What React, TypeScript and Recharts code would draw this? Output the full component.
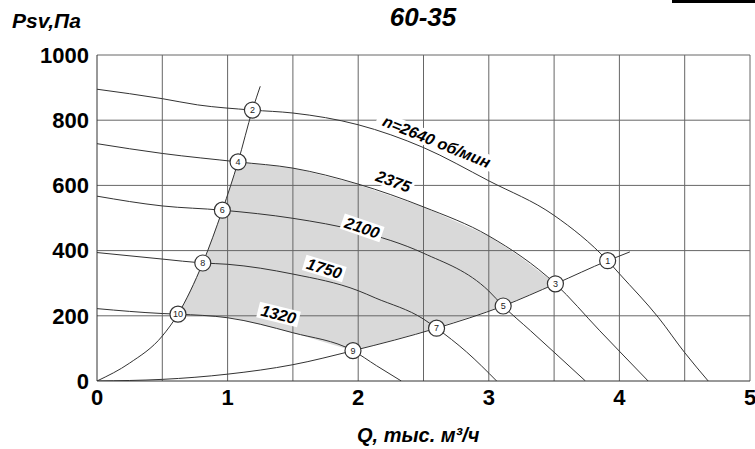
import { ComposedChart, Line, Area, Scatter, XAxis, YAxis, ReferenceLine } from 'recharts'

const FONT = '"Liberation Sans", Arial, sans-serif'

const Q_TICKS = [0, 1, 2, 3, 4, 5]
const P_TICKS = [0, 200, 400, 600, 800, 1000]
const GRID_Q = [0.5, 1, 1.5, 2, 2.5, 3, 3.5, 4, 4.5, 5]
const GRID_P = [200, 400, 600, 800, 1000]

// speed curves (Q thousand m3/h, Psv Pa)
const N2640 = [
  { q: 0, v: 895 }, { q: 0.5, v: 866 }, { q: 0.77, v: 847 }, { q: 1.19, v: 831 }, { q: 1.5, v: 822 },
  { q: 2.0, v: 786 }, { q: 2.5, v: 716 }, { q: 3.0, v: 614 }, { q: 3.5, v: 508 }, { q: 3.91, v: 369 },
  { q: 4.0, v: 329 }, { q: 4.3, v: 194 }, { q: 4.5, v: 87 }, { q: 4.68, v: 0 },
]
const N2375 = [
  { q: 0, v: 728 }, { q: 0.5, v: 698 }, { q: 1.08, v: 672 }, { q: 1.5, v: 653 }, { q: 2.0, v: 604 },
  { q: 2.5, v: 534 }, { q: 3.0, v: 445 }, { q: 3.51, v: 298 }, { q: 3.85, v: 154 }, { q: 4.22, v: 0 },
]
const N2100 = [
  { q: 0, v: 567 }, { q: 0.5, v: 537 }, { q: 0.96, v: 524 }, { q: 1.5, v: 499 }, { q: 2.0, v: 460 },
  { q: 2.5, v: 392 }, { q: 3.0, v: 276 }, { q: 3.11, v: 230 }, { q: 3.32, v: 154 }, { q: 3.74, v: 0 },
]
const N1750 = [
  { q: 0, v: 394 }, { q: 0.5, v: 374 }, { q: 0.81, v: 362 }, { q: 1.0, v: 358 }, { q: 1.5, v: 328 },
  { q: 2.0, v: 277 }, { q: 2.13, v: 255 }, { q: 2.5, v: 190 }, { q: 2.6, v: 162 }, { q: 2.83, v: 89 },
  { q: 3.06, v: 0 },
]
const N1320 = [
  { q: 0, v: 222 }, { q: 0.5, v: 207 }, { q: 0.62, v: 205 }, { q: 1.0, v: 194 }, { q: 1.5, v: 148 },
  { q: 1.96, v: 93 }, { q: 2.14, v: 47 }, { q: 2.33, v: 0 },
]
// network (system) curves
const SYS_A = [
  { q: 0, v: 0 }, { q: 0.25, v: 55 }, { q: 0.5, v: 138 }, { q: 0.62, v: 205 }, { q: 0.81, v: 362 },
  { q: 0.96, v: 524 }, { q: 1.08, v: 672 }, { q: 1.19, v: 831 }, { q: 1.25, v: 904 },
]
const SYS_B = [
  { q: 0, v: 0 }, { q: 0.5, v: 5 }, { q: 1.0, v: 21 }, { q: 1.5, v: 50 }, { q: 1.96, v: 93 },
  { q: 2.6, v: 162 }, { q: 3.11, v: 230 }, { q: 3.51, v: 298 }, { q: 3.91, v: 369 }, { q: 4.08, v: 396 },
]

const CURVES = [N2640, N2375, N2100, N1750, N1320, SYS_A, SYS_B]

// working zone [low, high]
const SHADE = [
  { q: 0.62, range: [205, 205] },
  { q: 0.7, range: [203, 268] },
  { q: 0.81, range: [200, 362] },
  { q: 0.96, range: [196, 524] },
  { q: 1.08, range: [190, 672] },
  { q: 1.5, range: [148, 653] },
  { q: 1.96, range: [93, 607] },
  { q: 2.5, range: [151, 534] },
  { q: 3.0, range: [215, 445] },
  { q: 3.25, range: [254, 378] },
  { q: 3.51, range: [298, 298] },
]

const POINTS = [
  { n: 1, q: 3.91, v: 369 }, { n: 2, q: 1.19, v: 831 }, { n: 3, q: 3.51, v: 298 },
  { n: 4, q: 1.08, v: 672 }, { n: 5, q: 3.11, v: 230 }, { n: 6, q: 0.96, v: 524 },
  { n: 7, q: 2.6, v: 162 }, { n: 8, q: 0.81, v: 362 }, { n: 9, q: 1.96, v: 93 },
  { n: 10, q: 0.62, v: 205 },
]

const CURVE_LABELS = [
  { text: 'n=2640 об/мин', q: 2.6, v: 734 },
  { text: '2375', q: 2.27, v: 612 },
  { text: '2100', q: 2.03, v: 470 },
  { text: '1750', q: 1.74, v: 345 },
  { text: '1320', q: 1.39, v: 204 },
]
const LABEL_ANGLE: Record<string, number> = {
  'n=2640 об/мин': 22, '2375': 20, '2100': 19, '1750': 17, '1320': 14,
}

const tickStyle = { fontSize: 22, fontWeight: 700, fill: '#000', fontFamily: FONT }

const Marker = (p: any) => (
  <g>
    <circle cx={p.cx} cy={p.cy} r={8} fill="#fff" stroke="#333" strokeWidth={1.2} />
    <text x={p.cx} y={p.cy} textAnchor="middle" dominantBaseline="central"
      fontSize={9} fontFamily={FONT} fill="#222">{p.payload.n}</text>
  </g>
)

const CurveLabel = (p: any) => {
  const t = p.payload.text
  const w = t.length * 9.5 + 4
  return (
    <g transform={`translate(${p.cx},${p.cy}) rotate(${LABEL_ANGLE[t] ?? 0})`}>
      <rect x={-w / 2} y={-8} width={w} height={16} fill="#fff" />
      <text x={0} y={0} textAnchor="middle" dominantBaseline="central" fontSize={16}
        fontWeight={700} fontStyle="italic" fontFamily={FONT} fill="#000">{t}</text>
    </g>
  )
}

export default function App() {
  return (
    <div style={{ position: 'absolute', left: 0, top: 0, width: 755, height: 449, background: '#fff' }}>
      <ComposedChart width={755} height={449} margin={{ top: 55, right: 5, bottom: 38, left: 0 }}>
        <XAxis type="number" dataKey="q" domain={[0, 5]} ticks={Q_TICKS} interval={0} height={30}
          tickLine={false} axisLine={{ stroke: '#333' }} tick={tickStyle} allowDataOverflow />
        <YAxis type="number" domain={[0, 1000]} ticks={P_TICKS} interval={0} width={97}
          tickLine={false} axisLine={{ stroke: '#333' }} tick={tickStyle} allowDataOverflow />
        <Area data={SHADE} dataKey="range" type="linear" stroke="none" fill="#d9d9d9"
          fillOpacity={1} isAnimationActive={false} />
        {GRID_Q.map(q => <ReferenceLine key={'gx' + q} x={q} stroke="#666" strokeWidth={1} />)}
        {GRID_P.map(p => <ReferenceLine key={'gy' + p} y={p} stroke="#666" strokeWidth={1} />)}
        {CURVES.map((c, i) => (
          <Line key={i} data={c} dataKey="v" type="monotone" stroke="#333" strokeWidth={1}
            dot={false} activeDot={false} isAnimationActive={false} />
        ))}
        <Scatter data={CURVE_LABELS} dataKey="v" shape={CurveLabel} isAnimationActive={false} />
        <Scatter data={POINTS} dataKey="v" shape={Marker} isAnimationActive={false} />
      </ComposedChart>
      <svg width={755} height={449} style={{ position: 'absolute', left: 0, top: 0, pointerEvents: 'none' }}>
        <rect x={672} y={0} width={83} height={3} fill="#000" />
        <text x={12} y={28} fontSize={21} fontWeight={700} fontStyle="italic" fontFamily={FONT} fill="#000">Psv,Па</text>
        <text x={423} y={26} textAnchor="middle" fontSize={26} fontWeight={700} fontStyle="italic" fontFamily={FONT} fill="#000">60-35</text>
        <text x={357} y={442} fontSize={20} fontWeight={700} fontStyle="italic" fontFamily={FONT} fill="#000">Q, тыс. м³/ч</text>
      </svg>
    </div>
  )
}
